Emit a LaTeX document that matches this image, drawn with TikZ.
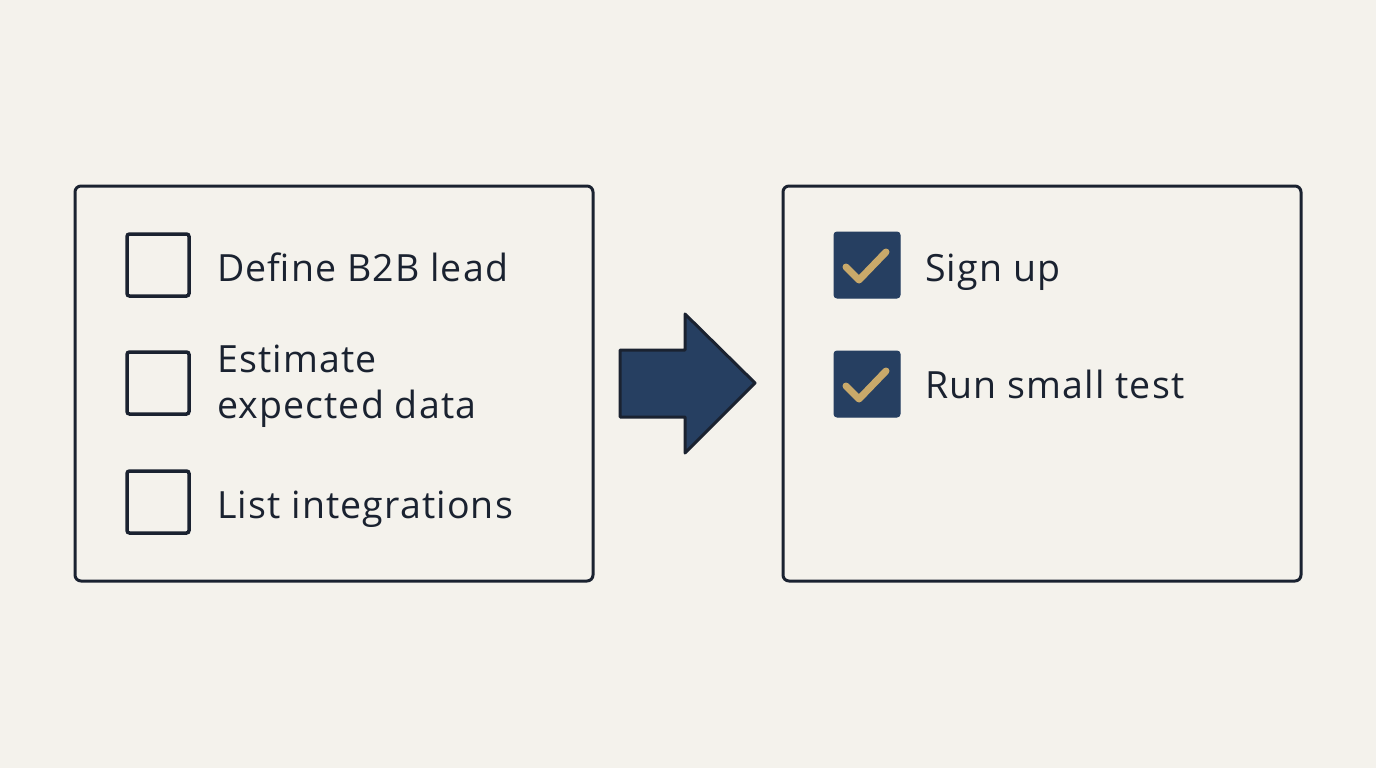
\documentclass[tikz,border=0pt]{standalone}
\usepackage{fontspec}
\setmainfont{Open Sans}[LetterSpace=3]
\definecolor{bg}{HTML}{F4F2EC}
\definecolor{ink}{HTML}{1A2230}
\definecolor{navy}{HTML}{263F61}
\definecolor{gold}{HTML}{C9A96A}
\tikzset{
  panel/.style={draw=ink, line width=3pt, rounded corners=6pt},
  emptybox/.style={draw=ink, line width=3.5pt, rounded corners=2.5pt, minimum width=62pt, minimum height=62pt, inner sep=0pt},
  donebox/.style={fill=navy, draw=navy, line width=1pt, rounded corners=3pt, minimum width=66pt, minimum height=66pt, inner sep=0pt},
  tick/.style={draw=gold, line width=7pt, line cap=round, line join=round},
  label/.style={anchor=base west, text=ink, font=\fontsize{37.5}{46}\selectfont, inner sep=0pt, align=left},
}
\begin{document}
\begin{tikzpicture}[x=1pt,y=-1pt]
\fill[bg] (0,0) rectangle (1376,768);
\useasboundingbox (0,0) rectangle (1376,768);
% panels
\draw[panel] (75,186) rectangle (593,581);
\draw[panel] (783,186) rectangle (1301,581);
% left checkboxes
\node[emptybox] (c1) at (158,265) {};
\node[emptybox] (c2) at (158,383) {};
\node[emptybox] (c3) at (158,502) {};
\node[label] (t1) at (217,281) {Define B2B lead};
\node[label] (t2a) at (217,372) {Estimate};
\node[label] (t2b) at (217,418) {expected data};
\node[label] (t3) at (217,518) {List integrations};
% right checkboxes
\node[donebox] (d1) at (867,265) {};
\node[donebox] (d2) at (867,384) {};
\draw[tick] ([shift={(-21,2)}]d1.center) -- ([shift={(-8,15)}]d1.center) -- ([shift={(19,-13)}]d1.center);
\draw[tick] ([shift={(-21,2)}]d2.center) -- ([shift={(-8,15)}]d2.center) -- ([shift={(19,-13)}]d2.center);
\node[label] (s1) at (925,281) {Sign up};
\node[label] (s2) at (925,398) {Run small test};
% arrow
\draw[fill=navy, draw=ink, line width=3pt, line join=round]
  (620,350) -- (685,350) -- (685,314) -- (755,383) -- (685,453) -- (685,417) -- (620,417) -- cycle;
\end{tikzpicture}
\end{document}
